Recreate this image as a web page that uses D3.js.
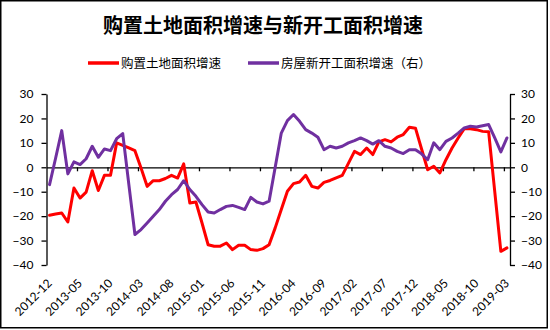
<!DOCTYPE html>
<html>
<head>
<meta charset="utf-8">
<script src="https://cdn.jsdelivr.net/npm/d3@7/dist/d3.min.js"></script>
<style>
  html, body { margin: 0; padding: 0; background: #fff; }
  svg { display: block; }
  .tick text { font-family: Lato, "Liberation Sans", sans-serif; font-size: 12px; fill: #000; }
</style>
</head>
<body>
<svg id="chart" width="550" height="330"></svg>
<script>
// Monthly series, 2012-12 .. 2019-03 (yoy growth, %)
const landPurchase = [
  -19.6, -19.1, -18.7, -22.4, -8.5, -12.6, -10.2, -1.4, -9.5, -3.3,
  -3.3, 10.0, 9.0, 7.9, 6.8, -0.3, -7.8, -5.5, -5.5, -4.6,
  -3.3, -4.4, 1.4, -14.6, -14.2, -22.8, -31.7, -32.3, -32.3, -31.0,
  -33.7, -31.9, -31.9, -33.7, -34.0, -33.3, -31.7, -24.8, -17.3, -9.8,
  -6.7, -6.0, -3.3, -7.8, -8.5, -6.2, -5.4, -4.3, -3.3, 1.6,
  6.5, 5.2, 7.9, 5.2, 10.4, 11.3, 10.4, 12.3, 13.4, 16.4,
  16.0, 7.5, -1.0, 0.4, -2.3, 3.1, 7.9, 12.0, 15.8, 15.8,
  15.4, 14.7, 14.5, -10.0, -34.4, -33.0
];
const newStarts = [
  -7.1, 3.8, 15.0, -2.7, 2.2, 1.1, 3.5, 8.6, 4.1, 7.5,
  6.8, 11.7, 13.8, -7.0, -27.5, -25.5, -22.8, -20.0, -17.3, -13.9,
  -11.2, -9.1, -5.5, -9.1, -11.9, -15.3, -18.3, -18.7, -17.3, -16.0,
  -15.6, -16.4, -17.3, -12.3, -14.2, -15.0, -13.9, 0.0, 14.0, 19.1,
  21.6, 18.8, 15.4, 14.0, 12.3, 7.2, 8.6, 7.9, 8.6, 10.0,
  10.9, 12.0, 10.9, 9.5, 10.9, 8.6, 7.9, 6.5, 5.6, 7.2,
  7.2, 5.5, 3.1, 10.0, 7.2, 10.6, 12.0, 14.0, 16.1, 16.8,
  16.5, 17.0, 17.5, 12.0, 6.3, 12.0
];
const xTickLabels = [
  "2012-12", "2013-05", "2013-10", "2014-03", "2014-08", "2015-01", "2015-06", "2015-11",
  "2016-04", "2016-09", "2017-02", "2017-07", "2017-12", "2018-05", "2018-10", "2019-03"
];
const yTicks = [-40, -30, -20, -10, 0, 10, 20, 30];
const titleText = "购置土地面积增速与新开工面积增速";
const seriesNames = ["购置土地面积增速", "房屋新开工面积增速（右）"];

const fmt = d3.timeFormat("%Y-%m");
const months = d3.timeMonth.range(new Date(2012, 11, 1), new Date(2019, 3, 1)).map(fmt);

const svg = d3.select("#chart");
const plotLeft = 46.5, plotRight = 510, plotTop = 94, plotBottom = 265;
const red = "#ff0000", purple = "#7030a0";

// outer frame
svg.append("rect")
  .attr("x", 0.75).attr("y", 0.75).attr("width", 546.5).attr("height", 327)
  .attr("fill", "#fff").attr("stroke", "#000").attr("stroke-width", 1.5);

const x = d3.scaleBand().domain(months).range([plotLeft, plotRight]).padding(0);
const xIdx = d3.scaleLinear().domain([0, months.length]).range([plotLeft, plotRight]);
const yL = d3.scaleLinear().domain([-40, 30]).range([plotBottom, plotTop]);
const yR = d3.scaleLinear().domain([-40, 30]).range([plotBottom, plotTop]);
const cx = m => x(m) + x.bandwidth() / 2;

// title
svg.append("text")
  .attr("x", 263).attr("y", 33)
  .attr("text-anchor", "middle")
  .attr("font-family", "'Noto Sans CJK SC', sans-serif")
  .attr("font-weight", "bold")
  .attr("font-size", 20)
  .attr("fill", "#000")
  .text(titleText);

// legend
const legend = [
  { name: seriesNames[0], color: red, x0: 88 },
  { name: seriesNames[1], color: purple, x0: 248 }
];
legend.forEach(l => {
  svg.append("line")
    .attr("x1", l.x0).attr("x2", l.x0 + 31).attr("y1", 63).attr("y2", 63)
    .attr("stroke", l.color).attr("stroke-width", 3.5);
  svg.append("text")
    .attr("x", l.x0 + 33).attr("y", 67.5)
    .attr("font-family", "'Noto Sans CJK SC', sans-serif")
    .attr("font-size", 12.5)
    .attr("fill", "#000")
    .text(l.name);
});

// left and right value axes
svg.append("g")
  .attr("transform", `translate(${plotLeft},0)`)
  .call(d3.axisLeft(yL).tickValues(yTicks).tickSize(5).tickSizeOuter(0).tickPadding(8))
  .call(g => g.selectAll("path, line").attr("stroke", "#000").attr("stroke-width", 1.3));

svg.append("g")
  .attr("transform", `translate(${plotRight},0)`)
  .call(d3.axisRight(yR).tickValues(yTicks).tickSize(5).tickSizeOuter(0).tickPadding(6))
  .call(g => g.selectAll("path, line").attr("stroke", "#000").attr("stroke-width", 1.3));

// category axis along zero
svg.append("g")
  .attr("transform", `translate(0,${yL(0)})`)
  .call(d3.axisBottom(xIdx)
    .tickValues(d3.range(5, months.length, 5))
    .tickFormat("")
    .tickSize(4).tickSizeOuter(0))
  .call(g => g.selectAll("path, line").attr("stroke", "#000").attr("stroke-width", 1.3));

// rotated category labels below the plot
svg.append("g")
  .selectAll("text")
  .data(xTickLabels)
  .join("text")
  .attr("transform", d => `translate(${cx(d) + 3},284) rotate(-45)`)
  .attr("text-anchor", "end")
  .attr("font-family", "Lato, 'Liberation Sans', sans-serif")
  .attr("font-size", 12)
  .attr("fill", "#000")
  .text(d => d);

// series lines (secondary-axis series drawn last)
const lineL = d3.line().x((d, i) => cx(months[i])).y(d => yL(d));
const lineR = d3.line().x((d, i) => cx(months[i])).y(d => yR(d));

svg.append("path")
  .datum(landPurchase)
  .attr("d", lineL)
  .attr("fill", "none").attr("stroke", red).attr("stroke-width", 3)
  .attr("stroke-linejoin", "round").attr("stroke-linecap", "round");

svg.append("path")
  .datum(newStarts)
  .attr("d", lineR)
  .attr("fill", "none").attr("stroke", purple).attr("stroke-width", 3)
  .attr("stroke-linejoin", "round").attr("stroke-linecap", "round");
</script>
</body>
</html>
